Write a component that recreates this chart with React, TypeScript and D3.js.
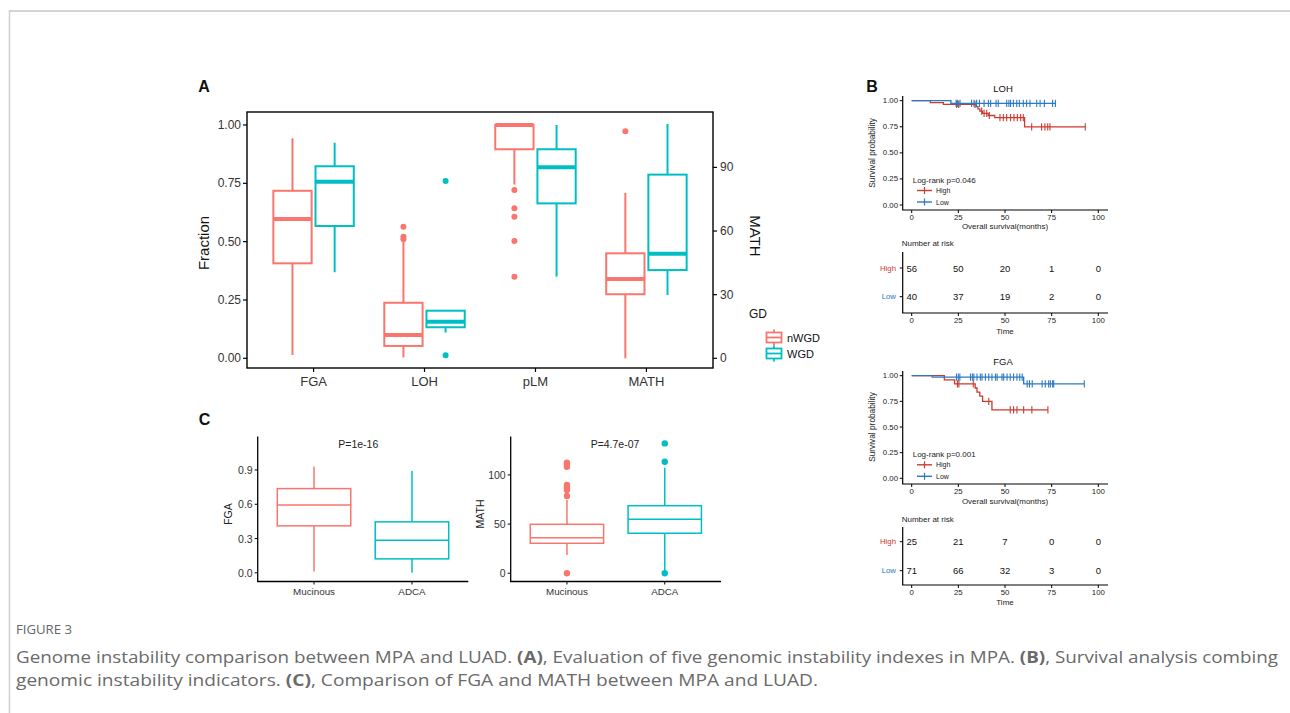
import React, { useEffect, useRef } from "react";
import * as d3 from "d3";

const W = 1290;
const H = 713;
const FONT = "'Liberation Sans', Arial, Helvetica, sans-serif";
const NWGD_COL = "#F8766D";
const WGD_COL = "#00BFC4";
const HIGH_COL = "#CB3A2F";
const LOW_COL = "#2B79C2";

// ---- panel A: genomic instability by GD status ----
const gdGroups = ["nWGD", "WGD"];
const aCategories = ["FGA", "LOH", "pLM", "MATH"];
// box stats: [lower whisker, Q1, median, Q3, upper whisker]  (fraction scale)
const nwgdStats = [
  [0.014, 0.407, 0.597, 0.718, 0.943],
  [0.004, 0.053, 0.1, 0.238, 0.5],
  [0.745, 0.896, 1.0, 1.0, 1.0],
];
const wgdStats = [
  [0.369, 0.567, 0.757, 0.823, 0.924],
  [0.11, 0.133, 0.157, 0.204, 0.204],
  [0.35, 0.664, 0.819, 0.896, 1.0],
];
const nwgdOutliers = [[], [0.564, 0.521, 0.51], [0.721, 0.643, 0.607, 0.503, 0.35]];
const wgdOutliers = [[], [0.76, 0.013], []];
// MATH on the secondary axis (raw units)
const nwgdMathStats = [0, 30.2, 37.4, 49.5, 78];
const wgdMathStats = [29.8, 41.6, 49.3, 86.6, 110.5];
const nwgdMathOutliers = [107];
const wgdMathOutliers: number[] = [];
const mathFactor = 110;
const fractionTicks = [0, 0.25, 0.5, 0.75, 1];
const mathTicks = [0, 30, 60, 90];

// ---- panel C: Mucinous vs ADCA ----
const cGroups = ["Mucinous", "ADCA"];
const cFgaStats = [
  [0.011, 0.411, 0.594, 0.737, 0.929],
  [0.0, 0.122, 0.286, 0.446, 0.891],
];
const cFgaTicks = [0, 0.3, 0.6, 0.9];
const cMathStats = [
  [18.6, 30.5, 36.2, 49.8, 74.5],
  [1, 40.7, 54.9, 68.7, 107.3],
];
const cMathOutliers = [
  [112.4, 110.8, 108.3, 89.7, 87.4, 84.7, 78.6, 0],
  [132.1, 113.4, 0],
];
const cMathTicks = [0, 50, 100];

// ---- panel B: Kaplan-Meier ----
const kmTimeTicks = [0, 25, 50, 75, 100];
const survTicks = [0, 0.25, 0.5, 0.75, 1];

const lohHighSteps = [[0, 1], [10, 0.982], [17, 0.964], [34.5, 0.944], [35.5, 0.922], [36.5, 0.9], [38, 0.879], [41, 0.858], [44.5, 0.837], [60.5, 0.75]];
const lohHighEnd = 93;
const lohHighCensor = [24.1, 25.2, 33.9, 37.5, 38.8, 40.2, 41.6, 47.3, 49.1, 50.9, 53, 54.8, 56.6, 58.4, 59.8, 64.3, 69.6, 71.4, 72.9, 74.1, 93];
const lohLowSteps = [[0, 1], [21, 0.975]];
const lohLowEnd = 77;
const lohLowCensor = [23.8, 24.6, 25.9, 32.1, 33.4, 34.8, 36.3, 38.8, 41.1, 42.3, 45.2, 46.4, 50.9, 52.1, 53, 54.5, 56.3, 57.7, 59.8, 61.6, 63.4, 67, 68.8, 71.1, 75.5, 77];
const lohRiskHigh = [56, 50, 20, 1, 0];
const lohRiskLow = [40, 37, 19, 2, 0];

const fgaHighSteps = [[0, 1], [17.5, 0.96], [23, 0.92], [34, 0.88], [35, 0.84], [36.5, 0.8], [38, 0.75], [43, 0.667]];
const fgaHighEnd = 73;
const fgaHighCensor = [24.5, 25.3, 33, 41.3, 52.8, 54.6, 56.4, 60, 64.4, 73];
const fgaLowSteps = [[0, 1], [11, 0.986], [60, 0.92]];
const fgaLowEnd = 92.5;
const fgaLowCensor = [24, 25, 25.8, 31.5, 32.5, 33.3, 35, 36.8, 37.7, 39.5, 41.3, 43, 44.9, 45.8, 48.4, 49.3, 51.1, 52.8, 54.6, 56.4, 57.9, 59.2, 61.9, 63.1, 64.6, 69.9, 71.6, 73.4, 74.3, 75.5, 76.1, 92.5];
const fgaRiskHigh = [25, 21, 7, 0, 0];
const fgaRiskLow = [71, 66, 32, 3, 0];

const captionLine1 = [
  ["Genome instability comparison between MPA and LUAD. ", false],
  ["(A)", true],
  [", Evaluation of five genomic instability indexes in MPA. ", false],
  ["(B)", true],
  [", Survival analysis combing", false],
];
const captionLine2 = [
  ["genomic instability indicators. ", false],
  ["(C)", true],
  [", Comparison of FGA and MATH between MPA and LUAD.", false],
];

// small helpers
function text(g, x, y, s, size, opt: any = {}) {
  return g
    .append("text")
    .attr("transform", `translate(${x},${y})${opt.rotate ? ` rotate(${opt.rotate})` : ""}`)
    .attr("font-family", opt.family || FONT)
    .attr("font-size", size)
    .attr("font-weight", opt.bold ? "bold" : "normal")
    .attr("text-anchor", opt.anchor || "middle")
    .attr("dominant-baseline", "central")
    .attr("fill", opt.fill || "#111")
    .text(s);
}

function line(g, x1, y1, x2, y2, color = "#000", w = 1) {
  return g.append("line").attr("x1", x1).attr("y1", y1).attr("x2", x2).attr("y2", y2)
    .attr("stroke", color).attr("stroke-width", w);
}

function drawBox(g, y, cx, bw, s, color, lw, medW) {
  line(g, cx, y(s[0]), cx, y(s[1]), color, lw);
  line(g, cx, y(s[3]), cx, y(s[4]), color, lw);
  g.append("rect")
    .attr("x", cx - bw / 2).attr("y", y(s[3]))
    .attr("width", bw).attr("height", Math.max(0.01, y(s[1]) - y(s[3])))
    .attr("fill", "white").attr("stroke", color).attr("stroke-width", lw);
  line(g, cx - bw / 2, y(s[2]), cx + bw / 2, y(s[2]), color, medW);
}

function dots(g, y, cx, vals, color, r) {
  vals.forEach((v) => g.append("circle").attr("cx", cx).attr("cy", y(v)).attr("r", r).attr("fill", color));
}

function survAt(steps, t) {
  let s = steps[0][1];
  steps.forEach((d) => { if (d[0] <= t) s = d[1]; });
  return s;
}

function drawKM(svg, cfg) {
  const g = svg.append("g");
  const x = d3.scaleLinear().domain([0, 100]).range([911.7, 1098.3]);
  const y = d3.scaleLinear().domain([0, 1]).range([cfg.y0, cfg.y1]);

  text(g, 1003, cfg.titleY, cfg.title, 9.5);

  // curves: High first, Low on top
  [
    [cfg.highSteps, cfg.highEnd, cfg.highCensor, HIGH_COL],
    [cfg.lowSteps, cfg.lowEnd, cfg.lowCensor, LOW_COL],
  ].forEach(([steps, end, cens, col]: any) => {
    const pts = steps.concat([[end, steps[steps.length - 1][1]]]);
    const path = d3.line().x((d) => x(d[0])).y((d) => y(d[1])).curve(d3.curveStepAfter);
    g.append("path").attr("d", path(pts)).attr("fill", "none").attr("stroke", col).attr("stroke-width", 1.3);
    cens.forEach((t) => {
      const yy = y(survAt(steps, t));
      line(g, x(t), yy - 3.6, x(t), yy + 3.6, col, 1.1);
    });
  });

  // axes
  line(g, 902.7, cfg.axisTop, 902.7, cfg.axisY, "#000", 1.2);
  line(g, 902.1, cfg.axisY, 1108, cfg.axisY, "#000", 1.2);
  survTicks.forEach((v) => {
    line(g, 899.7, y(v), 902.7, y(v), "#000", 1);
    text(g, 898, y(v), d3.format(".2f")(v), 7.8, { anchor: "end", fill: "#222" });
  });
  kmTimeTicks.forEach((t) => {
    line(g, x(t), cfg.axisY, x(t), cfg.axisY + 3, "#000", 1);
    text(g, x(t), cfg.axisY + 7.5, String(t), 7.8, { fill: "#222" });
  });
  text(g, 1005, cfg.xLabY, "Overall survival(months)", 8, { fill: "#222" });
  text(g, 872, (cfg.y0 + cfg.y1) / 2, "Survival probability", 8.3, { rotate: -90, fill: "#222" });

  // legend
  text(g, 912.7, cfg.legY, cfg.pText, 8, { anchor: "start", fill: "#222" });
  [[HIGH_COL, "High", cfg.legY + 10.5], [LOW_COL, "Low", cfg.legY + 22]].forEach(([col, lab, yy]: any) => {
    line(g, 917, yy, 932, yy, col, 1.4);
    line(g, 924.5, yy - 3.5, 924.5, yy + 3.5, col, 1.2);
    text(g, 936, yy, lab, 7, { anchor: "start", fill: "#222" });
  });

  // risk table
  const rt = cfg.risk;
  text(g, 901.7, rt.titleY, "Number at risk", 8, { anchor: "start", fill: "#222" });
  line(g, 902.7, rt.top, 902.7, rt.axisY, "#000", 1.2);
  line(g, 902.1, rt.axisY, 1108, rt.axisY, "#000", 1.2);
  [[cfg.riskHigh, "High", HIGH_COL, rt.highY], [cfg.riskLow, "Low", LOW_COL, rt.lowY]].forEach(([vals, lab, col, yy]: any) => {
    line(g, 899.7, yy, 902.7, yy, "#000", 1);
    text(g, 896, yy, lab, 7.8, { anchor: "end", fill: col });
    vals.forEach((v, i) => text(g, x(kmTimeTicks[i]), yy, String(v), 9.5, { fill: "#111" }));
  });
  kmTimeTicks.forEach((t) => {
    line(g, x(t), rt.axisY, x(t), rt.axisY + 3, "#000", 1);
    text(g, x(t), rt.axisY + 7.5, String(t), 7.8, { fill: "#222" });
  });
  text(g, 1005, rt.timeY, "Time", 8, { fill: "#222" });
}

function drawCPlot(svg, cfg) {
  const g = svg.append("g");
  const x = d3.scalePoint().domain(cGroups).range([cfg.left, cfg.right]).padding(0.575);
  const y = d3.scaleLinear().domain(cfg.domain).range([581.5, 436.5]);
  const step = x.step();
  cGroups.forEach((grp, i) => {
    const col = i === 0 ? NWGD_COL : WGD_COL;
    drawBox(g, y, x(grp), step * 0.75, cfg.stats[i], col, 1.5, 1.5);
    if (cfg.outliers) dots(g, y, x(grp), cfg.outliers[i], col, 3.2);
  });
  line(g, cfg.left, 436.5, cfg.left, 581.5, "#000", 1.3);
  line(g, cfg.left - 0.6, 581.5, cfg.right, 581.5, "#000", 1.3);
  cfg.ticks.forEach((v) => {
    line(g, cfg.left - 3, y(v), cfg.left, y(v), "#000", 1);
    text(g, cfg.left - 5, y(v), cfg.fmt(v), 10.5, { anchor: "end", fill: "#333" });
  });
  cGroups.forEach((grp) => {
    line(g, x(grp), 581.5, x(grp), 584.5, "#000", 1);
    text(g, x(grp), 591, grp, 9.8, { fill: "#333" });
  });
  text(g, cfg.labX, 514, cfg.label, 10.5, { rotate: -90, fill: "#222" });
  text(g, cfg.pX, 444.3, cfg.pText, 10.5, { fill: "#222" });
}

export default function App() {
  const svgRef = useRef(null);

  useEffect(() => {
    document.body.style.margin = "0";
    const svg = d3.select(svgRef.current);
    svg.selectAll("*").remove();

    svg.append("rect").attr("width", W).attr("height", H).attr("fill", "white");
    // page frame
    line(svg, 9, 11, W, 11, "#d4d4d4", 2);
    line(svg, 9.5, 10, 9.5, H, "#cfcfcf", 1.5);

    // ---------- panel A ----------
    const gA = svg.append("g");
    text(gA, 204, 86, "A", 16, { bold: true });
    const pl = { left: 247, right: 713, top: 112, bottom: 368 };
    const xA = d3.scalePoint().domain(aCategories).range([pl.left, pl.right]).padding(0.6);
    const yA = d3.scaleLinear().domain([-0.0416, 1.0557]).range([pl.bottom, pl.top]);
    const yMath = (v) => yA(v / mathFactor);
    const stepA = xA.step();
    const off = stepA * 0.19;
    const bw = stepA * 0.345;

    aCategories.forEach((cat, i) => {
      const cx = xA(cat);
      if (cat === "MATH") {
        drawBox(gA, yMath, cx - off, bw, nwgdMathStats, NWGD_COL, 2, 4);
        dots(gA, yMath, cx - off, nwgdMathOutliers, NWGD_COL, 3);
        drawBox(gA, yMath, cx + off, bw, wgdMathStats, WGD_COL, 2, 4);
        dots(gA, yMath, cx + off, wgdMathOutliers, WGD_COL, 3);
      } else {
        drawBox(gA, yA, cx - off, bw, nwgdStats[i], NWGD_COL, 2, 4);
        dots(gA, yA, cx - off, nwgdOutliers[i], NWGD_COL, 3);
        drawBox(gA, yA, cx + off, bw, wgdStats[i], WGD_COL, 2, 4);
        dots(gA, yA, cx + off, wgdOutliers[i], WGD_COL, 3);
      }
    });

    gA.append("rect").attr("x", pl.left).attr("y", pl.top)
      .attr("width", pl.right - pl.left).attr("height", pl.bottom - pl.top)
      .attr("fill", "none").attr("stroke", "#000").attr("stroke-width", 1.4);
    fractionTicks.forEach((v) => {
      line(gA, pl.left - 4, yA(v), pl.left, yA(v), "#000", 1.2);
      text(gA, pl.left - 6, yA(v), d3.format(".2f")(v), 12, { anchor: "end", fill: "#333" });
    });
    mathTicks.forEach((v) => {
      line(gA, pl.right, yMath(v), pl.right + 4, yMath(v), "#000", 1.2);
      text(gA, pl.right + 7, yMath(v), String(v), 12, { anchor: "start", fill: "#333" });
    });
    aCategories.forEach((cat) => {
      line(gA, xA(cat), pl.bottom, xA(cat), pl.bottom + 4, "#000", 1.2);
      text(gA, xA(cat), 381, cat, 13, { fill: "#333" });
    });
    text(gA, 203, 243, "Fraction", 15, { rotate: -90 });
    text(gA, 755, 236, "MATH", 15, { rotate: 90 });

    // legend
    text(gA, 758, 314, "GD", 12);
    gdGroups.forEach((grp, i) => {
      const col = i === 0 ? NWGD_COL : WGD_COL;
      const ky = 337.5 + i * 16;
      const kx = 774;
      line(gA, kx, ky - 8, kx, ky + 8, col, 1.8);
      gA.append("rect").attr("x", kx - 7.5).attr("y", ky - 5).attr("width", 15).attr("height", 10)
        .attr("fill", "white").attr("stroke", col).attr("stroke-width", 1.8);
      line(gA, kx - 7.5, ky, kx + 7.5, ky, col, 1.8);
      text(gA, 787, ky, grp, 11, { anchor: "start" });
    });

    // ---------- panel B ----------
    text(svg, 872, 86, "B", 16, { bold: true });
    drawKM(svg, {
      title: "LOH", titleY: 88, y0: 205, y1: 100.7, axisTop: 96, axisY: 210, xLabY: 226,
      highSteps: lohHighSteps, highEnd: lohHighEnd, highCensor: lohHighCensor,
      lowSteps: lohLowSteps, lowEnd: lohLowEnd, lowCensor: lohLowCensor,
      pText: "Log-rank p=0.046", legY: 180,
      riskHigh: lohRiskHigh, riskLow: lohRiskLow,
      risk: { titleY: 243, top: 252, axisY: 313, highY: 268, lowY: 296.7, timeY: 331 },
    });
    drawKM(svg, {
      title: "FGA", titleY: 361, y0: 478.3, y1: 375.7, axisTop: 371, axisY: 484, xLabY: 501.5,
      highSteps: fgaHighSteps, highEnd: fgaHighEnd, highCensor: fgaHighCensor,
      lowSteps: fgaLowSteps, lowEnd: fgaLowEnd, lowCensor: fgaLowCensor,
      pText: "Log-rank p=0.001", legY: 454.3,
      riskHigh: fgaRiskHigh, riskLow: fgaRiskLow,
      risk: { titleY: 519, top: 527, axisY: 585, highY: 541.7, lowY: 570.7, timeY: 602.5 },
    });

    // ---------- panel C ----------
    text(svg, 204.5, 419, "C", 16, { bold: true });
    drawCPlot(svg, {
      left: 257.7, right: 468.3, domain: [-0.076, 1.193], stats: cFgaStats, outliers: null,
      ticks: cFgaTicks, fmt: d3.format(".1f"), label: "FGA", labX: 228, pText: "P=1e-16", pX: 358.3,
    });
    drawCPlot(svg, {
      left: 510.7, right: 721, domain: [-8.4, 139.1], stats: cMathStats, outliers: cMathOutliers,
      ticks: cMathTicks, fmt: String, label: "MATH", labX: 480, pText: "P=4.7e-07", pX: 615,
    });

    // ---------- caption ----------
    text(svg, 16, 629, "FIGURE 3", 12.5, { anchor: "start", fill: "#666", family: "'Open Sans', sans-serif" })
      .attr("textLength", 56).attr("lengthAdjust", "spacingAndGlyphs");
    [[captionLine1, 657, 1262], [captionLine2, 680, 802]].forEach(([parts, yy, len]: any) => {
      const t = svg.append("text").attr("x", 16).attr("y", yy)
        .attr("dominant-baseline", "central")
        .attr("font-family", "'Open Sans', sans-serif").attr("font-size", 16)
        .attr("fill", "#6a6a6a")
        .attr("textLength", len).attr("lengthAdjust", "spacingAndGlyphs");
      parts.forEach(([s, b]) => t.append("tspan").attr("font-weight", b ? "bold" : "normal").text(s));
    });
  }, []);

  return (
    <div style={{ position: "absolute", left: 0, top: 0 }}>
      <svg ref={svgRef} width={W} height={H} style={{ display: "block" }}></svg>
    </div>
  );
}
